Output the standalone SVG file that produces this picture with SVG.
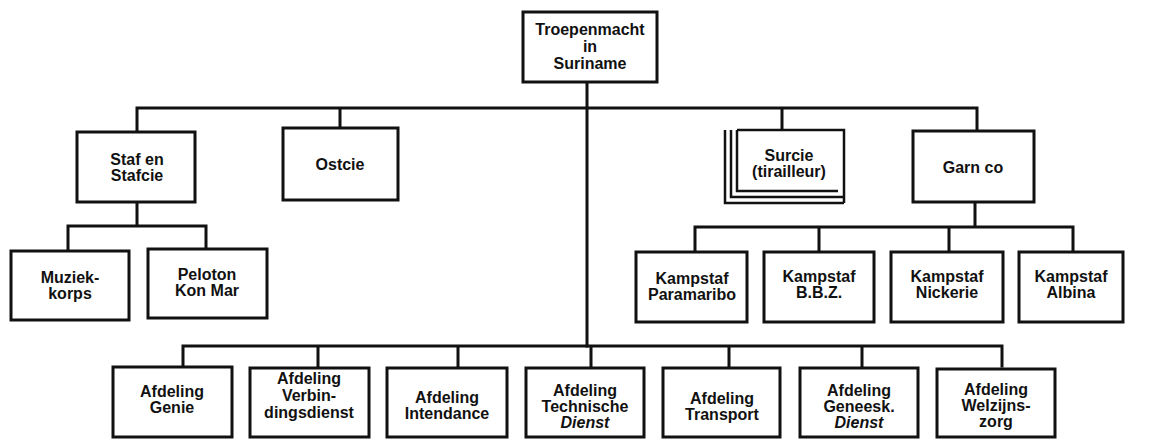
<svg xmlns="http://www.w3.org/2000/svg" width="1162" height="439" viewBox="0 0 1162 439">
<style>
.box{fill:#fff;stroke:#111;stroke-width:3}
.ln{stroke:#111;stroke-width:3;fill:none;stroke-linecap:square}
.thin{stroke:#111;stroke-width:2.5;fill:none}
text{font-family:"Liberation Sans",Arial,sans-serif;font-weight:bold;font-size:16px;text-anchor:middle;fill:#111}
.it{font-style:italic}
</style>
<rect width="1162" height="439" fill="#fff"/>
<g id="connectors">
<path class="ln" d="M587 82V108M137 108H977M137 108V131M340 108V127M782 108V129M977 108V130M587 108V346"/>
<path class="ln" d="M137 202V226M68 226H206M68 226V250M206 226V248"/>
<path class="ln" d="M975 202V227M695 227H1073M695 227V251M819 227V251M949 227V251M1073 227V251"/>
<path class="ln" d="M183 346H1002M183 346V366M318 346V366M458 346V366M591 346V366M729 346V366M862 346V366M1002 346V366"/>
</g>
<g id="n-troepenmacht">
<rect class="box" x="523" y="12" width="134" height="70"/>
<text x="590" y="35">Troepenmacht</text>
<text x="590" y="52">in</text>
<text x="590" y="69">Suriname</text>
</g>
<g id="n-staf">
<rect class="box" x="77" y="132" width="118" height="70"/>
<text x="137" y="165">Staf en</text>
<text x="137" y="181">Stafcie</text>
</g>
<g id="n-ostcie">
<rect class="box" x="283" y="128" width="115" height="72"/>
<text x="340" y="170">Ostcie</text>
</g>
<g id="n-surcie">
<path class="thin" d="M725 130V203H844M731 130V197H844M737 130V191H838M737 130H844V203"/>
<text x="789" y="161">Surcie</text>
<text x="789" y="177">(tirailleur)</text>
</g>
<g id="n-garn">
<rect class="box" x="913" y="131" width="121" height="71"/>
<text x="973" y="173">Garn co</text>
</g>
<g id="n-muziek">
<rect class="box" x="11" y="251" width="118" height="69"/>
<text x="70" y="283">Muziek-</text>
<text x="70" y="299">korps</text>
</g>
<g id="n-peloton">
<rect class="box" x="148" y="249" width="119" height="69"/>
<text x="207" y="280">Peloton</text>
<text x="207" y="296">Kon Mar</text>
</g>
<g id="n-paramaribo">
<rect class="box" x="636" y="252" width="111" height="70"/>
<text x="692" y="284">Kampstaf</text>
<text x="692" y="300">Paramaribo</text>
</g>
<g id="n-bbz">
<rect class="box" x="764" y="252" width="110" height="70"/>
<text x="819" y="282">Kampstaf</text>
<text x="819" y="298">B.B.Z.</text>
</g>
<g id="n-nickerie">
<rect class="box" x="891" y="252" width="112" height="70"/>
<text x="947" y="282">Kampstaf</text>
<text x="947" y="298">Nickerie</text>
</g>
<g id="n-albina">
<rect class="box" x="1019" y="252" width="104" height="70"/>
<text x="1071" y="282">Kampstaf</text>
<text x="1071" y="298">Albina</text>
</g>
<g id="n-genie">
<rect class="box" x="113" y="367" width="119" height="70"/>
<text x="172" y="397">Afdeling</text>
<text x="172" y="413">Genie</text>
</g>
<g id="n-verbindingsdienst">
<rect class="box" x="250" y="368" width="119" height="69"/>
<text x="309" y="384">Afdeling</text>
<text x="309" y="401">Verbin-</text>
<text x="309" y="418">dingsdienst</text>
</g>
<g id="n-intendance">
<rect class="box" x="387" y="368" width="120" height="69"/>
<text x="447" y="403">Afdeling</text>
<text x="447" y="419">Intendance</text>
</g>
<g id="n-technische">
<rect class="box" x="526" y="368" width="118" height="69"/>
<text x="585" y="396">Afdeling</text>
<text x="585" y="412">Technische</text>
<text x="585" y="428" class="it">Dienst</text>
</g>
<g id="n-transport">
<rect class="box" x="663" y="368" width="117" height="69"/>
<text x="722" y="404">Afdeling</text>
<text x="722" y="420">Transport</text>
</g>
<g id="n-geneesk">
<rect class="box" x="800" y="368" width="118" height="69"/>
<text x="859" y="396">Afdeling</text>
<text x="859" y="412">Geneesk.</text>
<text x="859" y="428" class="it">Dienst</text>
</g>
<g id="n-welzijnszorg">
<rect class="box" x="937" y="369" width="118" height="68"/>
<text x="996" y="395">Afdeling</text>
<text x="996" y="411">Welzijns-</text>
<text x="996" y="427">zorg</text>
</g>
</svg>
